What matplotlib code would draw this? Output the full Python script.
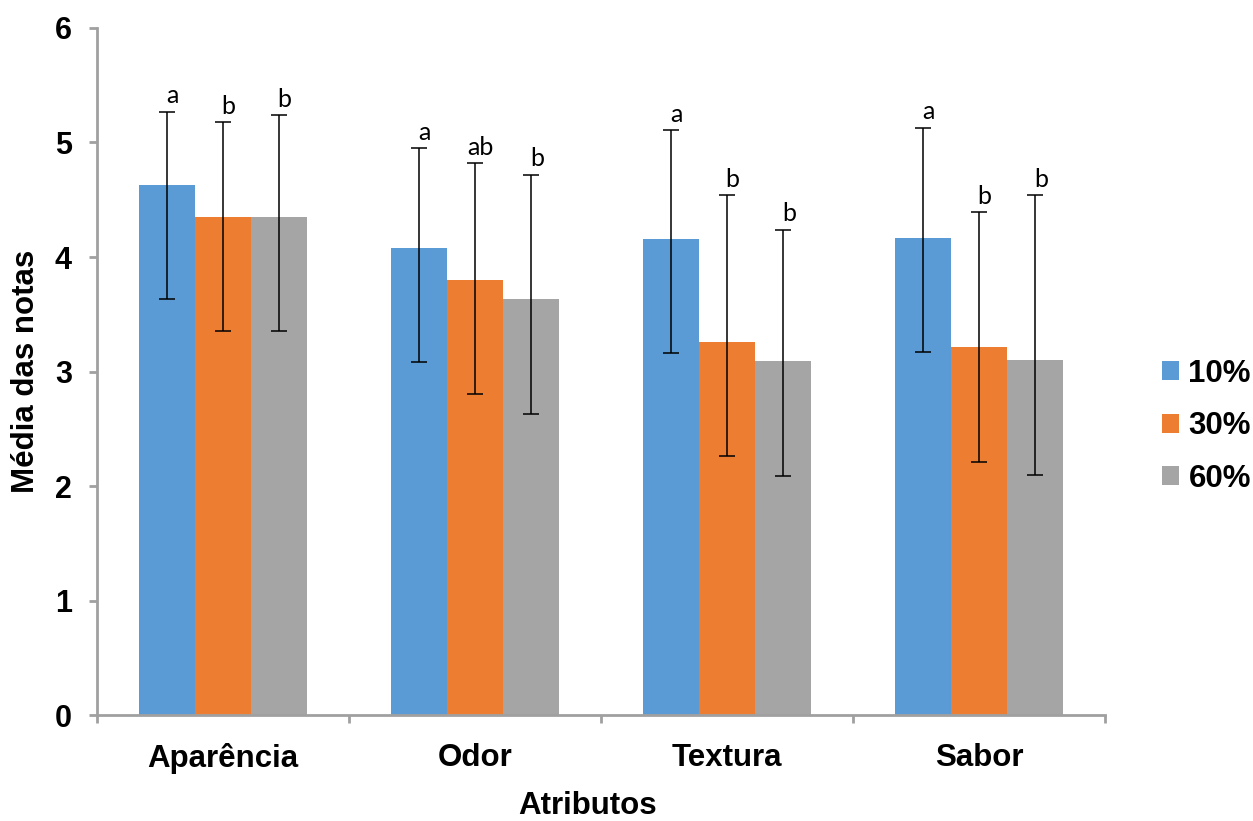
import numpy as np
import matplotlib
matplotlib.use("Agg")
import matplotlib.pyplot as plt
from matplotlib.ticker import FixedLocator

# --- Data ---
categories = ["Aparência", "Odor", "Textura", "Sabor"]
series = ["10%", "30%", "60%"]

mean_10 = [4.63, 4.08, 4.16, 4.17]
mean_30 = [4.35, 3.80, 3.26, 3.21]
mean_60 = [4.35, 3.63, 3.09, 3.10]

err_plus_10 = [0.64, 0.87, 0.95, 0.96]
err_plus_30 = [0.83, 1.02, 1.28, 1.18]
err_plus_60 = [0.89, 1.09, 1.15, 1.44]
err_minus_10 = [1.0, 1.0, 1.0, 1.0]
err_minus_30 = [1.0, 1.0, 1.0, 1.0]
err_minus_60 = [1.0, 1.0, 1.0, 1.0]

letters_10 = ["a", "a", "a", "a"]
letters_30 = ["b", "ab", "b", "b"]
letters_60 = ["b", "b", "b", "b"]

colors = ["#5B9BD5", "#ED7D31", "#A5A5A5"]
axis_color = "#A0A0A0"

plt.rcParams['font.family'] = ['Liberation Sans', 'DejaVu Sans']

fig = plt.figure(figsize=(12.53, 8.21), dpi=100)
ax = fig.add_axes([0.0774, 0.1291, 0.8045, 0.8368])

x = np.arange(len(categories))
width = 0.223

means = [mean_10, mean_30, mean_60]
plus = [err_plus_10, err_plus_30, err_plus_60]
minus = [err_minus_10, err_minus_30, err_minus_60]
letters = [letters_10, letters_30, letters_60]

for k in range(3):
    pos = x + (k - 1) * width
    ax.bar(pos, means[k], width, color=colors[k], label=series[k], zorder=2)
    ax.errorbar(pos, means[k], yerr=[minus[k], plus[k]], fmt='none',
                ecolor='black', elinewidth=1.1, capsize=6, capthick=1.1, zorder=3)
    for i in range(len(categories)):
        top = means[k][i] + plus[k][i]
        ax.annotate(letters[k][i], (pos[i], top), xytext=(4, 6),
                    textcoords='offset points', ha='center', va='baseline',
                    fontsize=18, family=['Lato', 'DejaVu Sans'])

ax.set_xlim(-0.5, len(categories) - 0.5)
ax.set_ylim(0, 6)
ax.set_yticks(range(0, 7))
ax.set_xticks(x)
ax.set_xticklabels(categories, fontsize=22.5, fontweight='bold')
ax.xaxis.set_minor_locator(FixedLocator(np.arange(-0.5, len(categories), 1.0)))
ax.tick_params(axis='x', which='major', length=0, pad=20)
ax.tick_params(axis='x', which='minor', length=6, width=2, color=axis_color, direction='out')
ax.tick_params(axis='y', length=6, width=2, color=axis_color, direction='out',
               labelsize=22, pad=12)
for lbl in ax.get_yticklabels():
    lbl.set_fontweight('bold')

for side in ['top', 'right']:
    ax.spines[side].set_visible(False)
for side in ['left', 'bottom']:
    ax.spines[side].set_color(axis_color)
    ax.spines[side].set_linewidth(2)

ax.set_xlabel("Atributos", fontsize=22.5, fontweight='bold')
ax.xaxis.set_label_coords(0.487, -0.111)
ax.set_ylabel("Média das notas", fontsize=22.5, fontweight='bold', labelpad=10)

fig.legend(loc='center left', bbox_to_anchor=(0.927, 0.481), frameon=False,
           prop={'size': 22.5, 'weight': 'bold'}, handlelength=0.56, handleheight=0.56,
           handletextpad=0.3, labelspacing=0.72, borderpad=0, borderaxespad=0)

fig.savefig("out.png", dpi=100)
